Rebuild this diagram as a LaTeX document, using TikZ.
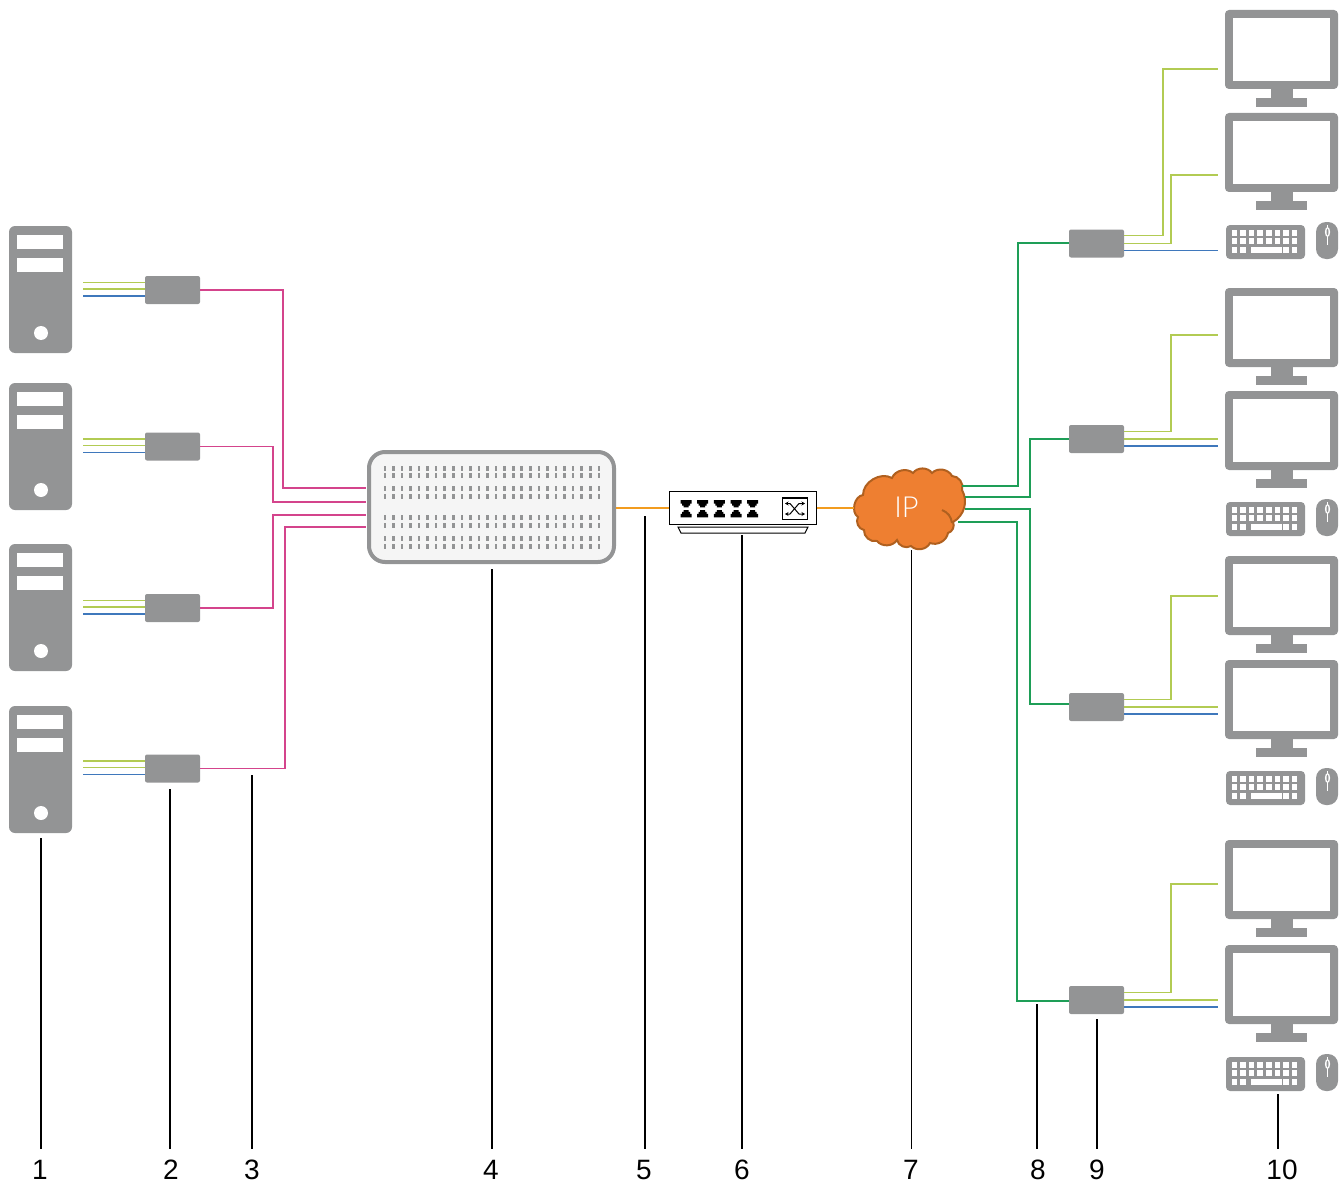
\documentclass[tikz,border=0pt]{standalone}
\usepackage{fontspec}
\usepackage{xcolor}
\usetikzlibrary{arrows.meta, positioning, calc}
\setmainfont{Liberation Sans}
\newfontfamily\ipfont{Lato Light}

\definecolor{devgray}{HTML}{939495}
\definecolor{kvmpink}{HTML}{D4448C}
\definecolor{vidgreen}{HTML}{B2CB53}
\definecolor{usbblue}{HTML}{3F78BC}
\definecolor{ipgreen}{HTML}{1E9E57}
\definecolor{lanorange}{HTML}{F29C1F}
\definecolor{cloudfill}{HTML}{EE7F31}
\definecolor{cloudedge}{HTML}{B0601F}

\tikzset{
    extender/.style={draw=none, fill=devgray, rounded corners=2pt, minimum width=55pt, minimum height=28pt, inner sep=0pt},
    kvmline/.style={draw=kvmpink, line width=1.5pt},
    vidline/.style={draw=vidgreen, line width=1.5pt},
    usbline/.style={draw=usbblue, line width=1.5pt},
    ipline/.style={draw=ipgreen, line width=1.5pt},
    lanline/.style={draw=lanorange, line width=2pt},
    leader/.style={draw=black, line width=1.6pt},
    numlabel/.style={font=\fontsize{28}{30}\selectfont, minimum height=42pt, inner sep=0pt},
    pics/server/.style={code={
        \fill[devgray, rounded corners=6pt] (0,0) rectangle (63,127);
        \fill[white] (8,9) rectangle (54,23);
        \fill[white] (8,32) rectangle (54,46);
        \fill[white] (32,107) circle (7);
    }},
    pics/monitor/.style={code={
        \fill[devgray, rounded corners=4pt] (0,0) rectangle (113,79);
        \fill[white] (8,8) rectangle (105,71);
        \fill[devgray] (46,79) rectangle (68,89);
        \fill[devgray] (31,88) rectangle (82,97);
    }},
    pics/keyboard/.style={code={
        \fill[devgray, rounded corners=4pt] (0,1) rectangle (79,35);
        \foreach \kx in {0,...,7} {
            \foreach \ky in {0,1} {
                \fill[white] (5.5+\kx*8.6,6+\ky*8.3) rectangle ++(5.6,5.6);
            }
        }
        \foreach \kx in {0,1,6,7} {
            \fill[white] (5.5+\kx*8.6,23) rectangle ++(5.6,5.6);
        }
        \fill[white] (24.5,23) rectangle (55.5,28.6);
        % The mouse
        \fill[devgray, rounded corners=10pt] (90,-2) rectangle (112,35);
        \draw[white, line width=1pt] (101.5,1) -- (101.5,21);
        \fill[white] (101.5,8) ellipse (2.6 and 5);
        \fill[devgray] (101.5,8) ellipse (1 and 3.4);
    }},
}

\begin{document}
\begin{tikzpicture}[x=1pt, y=-1pt]
    \useasboundingbox (0,0) rectangle (1343,1185);

    % Servers with their extenders
    \foreach \i/\ys/\ye in {1/226/290, 2/383/446.5, 3/544/608, 4/706/768.5} {
        \pic (server\i) at (9,\ys) {server};
        \node[extender] (ext\i) at (172.5,\ye) {};
        \coordinate (cpua\i) at (83,\ye-7.5);
        \coordinate (cpub\i) at (83,\ye-1);
        \coordinate (cpuc\i) at (83,\ye+6);
        \draw[vidline] (cpua\i) -- (cpua\i -| ext\i.west);
        \draw[vidline] (cpub\i) -- (cpub\i -| ext\i.west);
        \draw[usbline] (cpuc\i) -- (cpuc\i -| ext\i.west);
    }

    % The matrix
    \node[draw=devgray, fill=white!96!black, line width=4pt, rounded corners=16pt, minimum width=245pt, minimum height=110pt, inner sep=0pt] (hub) at (491.5,507) {};
    \foreach \hy in {468,475.5,488,496,517,525.5,538,546} {
        \foreach \hx in {0,...,25} {
            \fill[devgray] (383.5+\hx*8.56,\hy-2.5) rectangle ++(2.6,5);
        }
    }

    % From the extenders to the matrix
    \foreach \i/\xb/\yh in {1/283/488, 2/273/502, 3/273/515, 4/285/527} {
        \coordinate (hubin\i) at (366,\yh);
        \draw[kvmline] (ext\i.east) -| (\xb,\yh) -- (hubin\i);
    }

    % The network switch
    \node[draw=black, fill=white, line width=1pt, minimum width=147pt, minimum height=33pt, inner sep=0pt] (switch) at (742.5,508) {};
    \draw[black, line width=1pt] (678,527) -- (808,527) -- (805,533) -- (681,533) -- cycle;
    \foreach \px in {686,702.7,719.3,736,752.7} {
        \fill[black] (\px-5.5,500) -- (\px+5.5,500) -- (\px+5.5,503.5) -- (\px+4,503.5) -- (\px+4,505.5) -- (\px+2.5,505.5) -- (\px+2.5,507.3) -- (\px-2.5,507.3) -- (\px-2.5,505.5) -- (\px-4,505.5) -- (\px-4,503.5) -- (\px-5.5,503.5) -- cycle;
        \fill[black] (\px-5.5,517.3) -- (\px+5.5,517.3) -- (\px+5.5,513.8) -- (\px+4,513.8) -- (\px+4,511.8) -- (\px+2.5,511.8) -- (\px+2.5,510) -- (\px-2.5,510) -- (\px-2.5,511.8) -- (\px-4,511.8) -- (\px-4,513.8) -- (\px-5.5,513.8) -- cycle;
    }
    \draw[black, line width=1.2pt] (782.5,498) rectangle (807.5,519.5);
    \draw[black, line width=1pt, {Stealth[length=3.5pt,width=4pt]}-{Stealth[length=3.5pt,width=4pt]}] (785,503.5) -- (790,503.5) -- (799,514) -- (805,514);
    \draw[black, line width=1pt, {Stealth[length=3.5pt,width=4pt]}-{Stealth[length=3.5pt,width=4pt]}] (785,514) -- (790,514) -- (799,503.5) -- (805,503.5);

    % The cloud
    \draw[draw=cloudedge, fill=cloudfill, line width=2pt] (863,495)
        to[bend left=60] (892,478) to[bend left=55] (913,473)
        to[bend left=55] (932,473) to[bend left=55] (952,476)
        to[bend left=55] (962,490) to[bend left=45] (953,522)
        to[bend left=50] (948,533) to[bend left=50] (930,543)
        to[bend left=55] (911,546) to[bend left=55] (897,540)
        to[bend left=55] (877,541) to[bend left=55] (864,530)
        to[bend left=55] (858,517) to[bend left=70] cycle;
    \draw[draw=cloudedge, line width=2pt] (942,510) to[bend left=30] (952,523);
    \node[text=white, font=\ipfont\fontsize{29}{30}\selectfont, minimum width=104pt, minimum height=60pt, inner sep=0pt] (cloud) at (906.5,507) {IP};

    % Orange links
    \draw[lanline] (hub.east |- switch.west) -- (switch.west);
    \draw[lanline] (switch.east) -- (cloud.west |- switch.east);

    % The remote side
    \foreach \g/\ya/\yb/\yk/\ye in {1/10/113/224/243.5, 2/288/391/501/439, 3/556/660/770/707, 4/840/945/1056/1000} {
        \pic (screena\g) at (1225,\ya) {monitor};
        \pic (screenb\g) at (1225,\yb) {monitor};
        \pic (desk\g) at (1226,\yk) {keyboard};
        \node[extender] (rext\g) at (1096.5,\ye) {};
        \coordinate (usbend\g) at (1218,\ye+7);
        \draw[usbline] (rext\g.east |- usbend\g) -- (usbend\g);
    }

    % Video lines
    \draw[vidline] ($(rext1.east)+(0,-8)$) -- (1163,235.5) -- (1163,69) -- (1218,69);
    \draw[vidline] (rext1.east) -| (1171,175) -- (1218,175);
    \foreach \g/\yt in {2/335, 3/596, 4/884} {
        \draw[vidline] ($(rext\g.east)+(0,-7.5)$) -| (1171,\yt) -- (1218,\yt);
        \coordinate (vidend\g) at (1218,0);
        \draw[vidline] (rext\g.east) -- (rext\g.east -| vidend\g);
    }

    % From the cloud to the remote extenders
    \foreach \g/\xb/\yo/\yr/\xo in {1/1018/486/243/962, 2/1030/497/439/965, 3/1030/509/704/965, 4/1017/522/1001/958} {
        \coordinate (cloudout\g) at (\xo,\yo);
        \draw[ipline] (cloudout\g) -| (\xb,\yr) -- (rext\g.west |- {0,\yr});
    }

    % Numbers and their lines
    \foreach \i/\xl/\xn/\yt in {1/41/40/838, 2/170/171/789, 3/252/252/775, 4/492/491/569, 5/645/644/516, 6/742/742/535, 7/911.5/911/550, 8/1037/1038/1004, 9/1097/1097/1019, 10/1278/1282/1094} {
        \node[numlabel] (num\i) at (\xn,1170) {\i};
        \coordinate (lead\i) at (\xl,\yt);
        \draw[leader] (lead\i) -- (lead\i |- num\i.north);
    }
\end{tikzpicture}
\end{document}
